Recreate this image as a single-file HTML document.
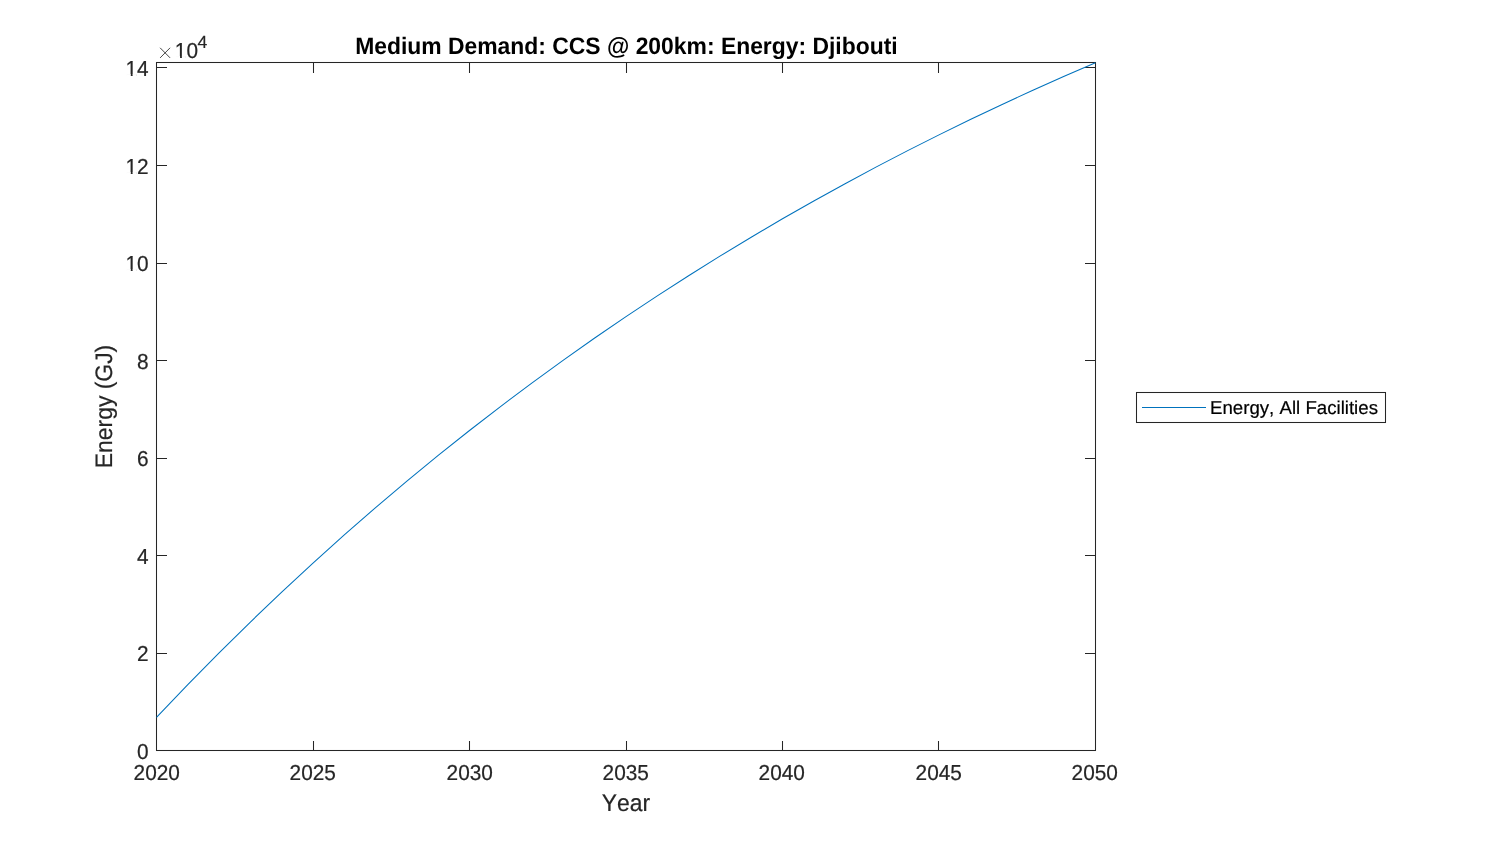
<!DOCTYPE html>
<html><head><meta charset="utf-8"><title>Medium Demand: CCS @ 200km: Energy: Djibouti</title>
<style>html,body{margin:0;padding:0;background:#fff;}body{width:1500px;height:844px;overflow:hidden;font-family:"Liberation Sans",sans-serif;}svg{display:block;}text{font-family:"Liberation Sans",sans-serif;font-kerning:none;text-rendering:geometricPrecision;}</style></head><body>
<svg width="1500" height="844" viewBox="0 0 1500 844" style="will-change:transform">
<rect x="0" y="0" width="1500" height="844" fill="#ffffff"/>
<rect x="156.5" y="62.5" width="939.0" height="688.0" fill="none" stroke="#262626" stroke-width="1.04"/>
<path d="M313.5 750.5V741M313.5 62.5V73M469.5 750.5V741M469.5 62.5V73M626.5 750.5V741M626.5 62.5V73M782.5 750.5V741M782.5 62.5V73M938.5 750.5V741M938.5 62.5V73M156.5 653.5H167M1095.5 653.5H1085M156.5 555.5H167M1095.5 555.5H1085M156.5 458.5H167M1095.5 458.5H1085M156.5 360.5H167M1095.5 360.5H1085M156.5 263.5H167M1095.5 263.5H1085M156.5 165.5H167M1095.5 165.5H1085M156.5 67.5H167M1095.5 67.5H1085" fill="none" stroke="#262626" stroke-width="1.04"/>
<polyline points="156.50,717.47 187.80,684.68 219.10,652.87 250.40,622.02 281.70,592.10 313.00,563.07 344.30,534.91 375.60,507.60 406.90,481.10 438.20,455.40 469.50,430.47 500.80,406.29 532.10,382.84 563.40,360.08 594.70,338.01 626.00,316.61 657.30,295.84 688.60,275.70 719.90,256.16 751.20,237.21 782.50,218.82 813.80,200.99 845.10,183.69 876.40,166.91 907.70,150.63 939.00,134.85 970.30,119.53 1001.60,104.68 1032.90,90.27 1064.20,76.29 1095.50,62.73" fill="none" stroke="#0072BD" stroke-width="1.04" stroke-linejoin="round"/>
<text transform="translate(156.77 780) scale(1 1.04)" font-size="20.83" text-anchor="middle" fill="#262626" stroke="#262626" stroke-width="0.2">2020</text>
<text transform="translate(312.77 780) scale(1 1.04)" font-size="20.83" text-anchor="middle" fill="#262626" stroke="#262626" stroke-width="0.2">2025</text>
<text transform="translate(469.77 780) scale(1 1.04)" font-size="20.83" text-anchor="middle" fill="#262626" stroke="#262626" stroke-width="0.2">2030</text>
<text transform="translate(625.77 780) scale(1 1.04)" font-size="20.83" text-anchor="middle" fill="#262626" stroke="#262626" stroke-width="0.2">2035</text>
<text transform="translate(781.77 780) scale(1 1.04)" font-size="20.83" text-anchor="middle" fill="#262626" stroke="#262626" stroke-width="0.2">2040</text>
<text transform="translate(938.77 780) scale(1 1.04)" font-size="20.83" text-anchor="middle" fill="#262626" stroke="#262626" stroke-width="0.2">2045</text>
<text transform="translate(1094.77 780) scale(1 1.04)" font-size="20.83" text-anchor="middle" fill="#262626" stroke="#262626" stroke-width="0.2">2050</text>
<text transform="translate(148.7 759) scale(1 1.04)" font-size="20.83" text-anchor="end" fill="#262626" stroke="#262626" stroke-width="0.2">0</text>
<text transform="translate(148.7 661) scale(1 1.04)" font-size="20.83" text-anchor="end" fill="#262626" stroke="#262626" stroke-width="0.2">2</text>
<text transform="translate(148.7 564) scale(1 1.04)" font-size="20.83" text-anchor="end" fill="#262626" stroke="#262626" stroke-width="0.2">4</text>
<text transform="translate(148.7 466) scale(1 1.04)" font-size="20.83" text-anchor="end" fill="#262626" stroke="#262626" stroke-width="0.2">6</text>
<text transform="translate(148.7 369) scale(1 1.04)" font-size="20.83" text-anchor="end" fill="#262626" stroke="#262626" stroke-width="0.2">8</text>
<text transform="translate(148.7 271) scale(1 1.04)" font-size="20.83" text-anchor="end" fill="#262626" stroke="#262626" stroke-width="0.2">10</text>
<text transform="translate(148.7 174) scale(1 1.04)" font-size="20.83" text-anchor="end" fill="#262626" stroke="#262626" stroke-width="0.2">12</text>
<text transform="translate(148.7 76) scale(1 1.04)" font-size="20.83" text-anchor="end" fill="#262626" stroke="#262626" stroke-width="0.2">14</text>
<path d="M160.1 47.8L170.1 57.9M170.1 47.8L160.1 57.9" stroke="#262626" stroke-width="0.85" fill="none"/>
<text transform="translate(174.8 58) scale(1 1.04)" font-size="20.83" text-anchor="start" fill="#262626" stroke="#262626" stroke-width="0.2">10</text>
<text transform="translate(197.6 48) scale(1 1.0)" font-size="17.6" text-anchor="start" fill="#262626" stroke="#262626" stroke-width="0.2">4</text>
<rect x="126.57" y="269.03" width="4.22" height="2.62" fill="#fff"/><rect x="132.62" y="269.03" width="3.96" height="2.62" fill="#fff"/>
<rect x="126.57" y="172.03" width="4.22" height="2.62" fill="#fff"/><rect x="132.62" y="172.03" width="3.96" height="2.62" fill="#fff"/>
<rect x="126.57" y="74.03" width="4.22" height="2.62" fill="#fff"/><rect x="132.62" y="74.03" width="3.96" height="2.62" fill="#fff"/>
<rect x="175.84" y="56.03" width="4.22" height="2.62" fill="#fff"/><rect x="181.89" y="56.03" width="3.96" height="2.62" fill="#fff"/>
<text transform="translate(626.4 53.8) scale(1 1.04)" font-size="22.9" text-anchor="middle" fill="#000" stroke="#000" stroke-width="0" font-weight="bold">Medium Demand: CCS @ 200km: Energy: Djibouti</text>
<text transform="translate(626 811) scale(1 1.05)" font-size="22.9" text-anchor="middle" fill="#262626" stroke="#262626" stroke-width="0.2">Year</text>
<text transform="translate(112 406.5) rotate(-90) scale(1 1.04)" font-size="22.9" text-anchor="middle" fill="#262626" stroke="#262626" stroke-width="0.2">Energy (GJ)</text>
<rect x="1136.5" y="392.5" width="249" height="30" fill="#fff" stroke="#262626" stroke-width="1.04"/>
<path d="M1142 407.5H1206" stroke="#0072BD" stroke-width="1.04" fill="none"/>
<text transform="translate(1210 413.9) scale(1 1.0)" font-size="18.66" text-anchor="start" fill="#000" stroke="#000" stroke-width="0.2">Energy, All Facilities</text>
</svg></body></html>
